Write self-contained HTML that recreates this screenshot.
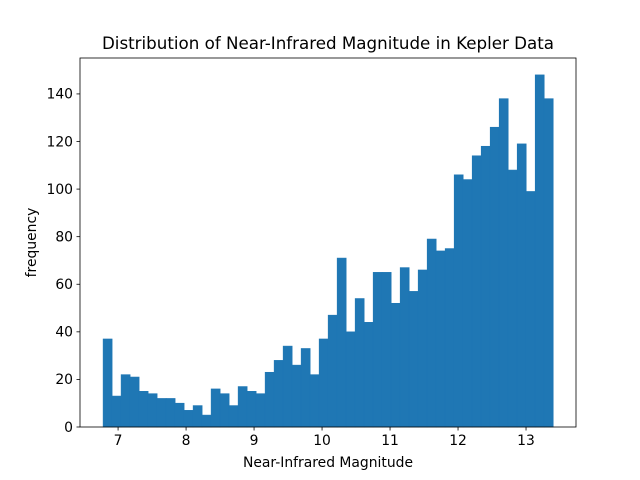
<!DOCTYPE html>
<html><head><meta charset="utf-8"><style>
html,body{margin:0;padding:0;background:#fff;}
svg{display:block;font-family:"DejaVu Sans","Liberation Sans",sans-serif;}
</style></head><body>
<svg id="chart" width="640" height="480">
<rect x="0" y="0" width="640" height="480" fill="#fff"/>
<g id="bars"></g>
<g id="axes"></g>
<text x="328" y="49" text-anchor="middle" font-size="16.7" fill="#000">Distribution of Near-Infrared Magnitude in Kepler Data</text>
<text x="328" y="467" text-anchor="middle" font-size="13.9" fill="#000">Near-Infrared Magnitude</text>
<text x="36" y="242.5" text-anchor="middle" font-size="13.9" fill="#000" transform="rotate(-90 36 242.5)">frequency</text>
</svg>
<script>
const binStart = 6.78;
const binWidth = 0.1324;
const counts = [37,13,22,21,15,14,12,12,10,7,9,5,16,14,9,17,15,14,23,28,34,26,33,22,37,47,71,40,54,44,65,65,52,67,57,66,79,74,75,106,104,114,118,126,138,108,119,99,148,138];
const xTicks = [7,8,9,10,11,12,13];
const yTicks = [0,20,40,60,80,100,120,140];
const L=80,R=576,T=58,B=427;
const xMin=6.44,xMax=13.735,yMin=0,yMax=155.1;
const xs=v=>L+(v-xMin)/(xMax-xMin)*(R-L);
const ys=v=>B-(v-yMin)/(yMax-yMin)*(B-T);
const NS="http://www.w3.org/2000/svg";
const bars=document.getElementById('bars');
counts.forEach((c,i)=>{
  const r=document.createElementNS(NS,'rect');
  const x0=xs(binStart+i*binWidth),x1=xs(binStart+(i+1)*binWidth);
  r.setAttribute('x',x0);r.setAttribute('width',x1-x0);
  r.setAttribute('y',ys(c));r.setAttribute('height',ys(0)-ys(c));
  r.setAttribute('fill','#1f77b4');
  r.setAttribute('stroke','#1f77b4');r.setAttribute('stroke-width','0.6');
  
  
  bars.appendChild(r);
});
const ax=document.getElementById('axes');
const frame=document.createElementNS(NS,'rect');
frame.setAttribute('x',L);frame.setAttribute('y',T);frame.setAttribute('width',R-L);frame.setAttribute('height',B-T);
frame.setAttribute('fill','none');frame.setAttribute('stroke','#000');frame.setAttribute('stroke-width','0.8');


ax.appendChild(frame);
xTicks.forEach(t=>{
  const x=xs(t);
  const l=document.createElementNS(NS,'line');
  l.setAttribute('x1',x);l.setAttribute('x2',x);l.setAttribute('y1',B);l.setAttribute('y2',B+3.5);
  l.setAttribute('stroke','#000');l.setAttribute('stroke-width','0.8');
  
  
  ax.appendChild(l);
  const tx=document.createElementNS(NS,'text');
  tx.setAttribute('x',x);tx.setAttribute('y',B+18);tx.setAttribute('text-anchor','middle');tx.setAttribute('font-size','13.9');
  tx.textContent=t;
  
  
  ax.appendChild(tx);
});
yTicks.forEach(t=>{
  const y=ys(t);
  const l=document.createElementNS(NS,'line');
  l.setAttribute('x1',L-3.5);l.setAttribute('x2',L);l.setAttribute('y1',y);l.setAttribute('y2',y);
  l.setAttribute('stroke','#000');l.setAttribute('stroke-width','0.8');
  
  
  ax.appendChild(l);
  const tx=document.createElementNS(NS,'text');
  tx.setAttribute('x',L-7);tx.setAttribute('y',y+4.8);tx.setAttribute('text-anchor','end');tx.setAttribute('font-size','13.9');
  tx.textContent=t;
  
  
  ax.appendChild(tx);
});
</script>
</body></html>
